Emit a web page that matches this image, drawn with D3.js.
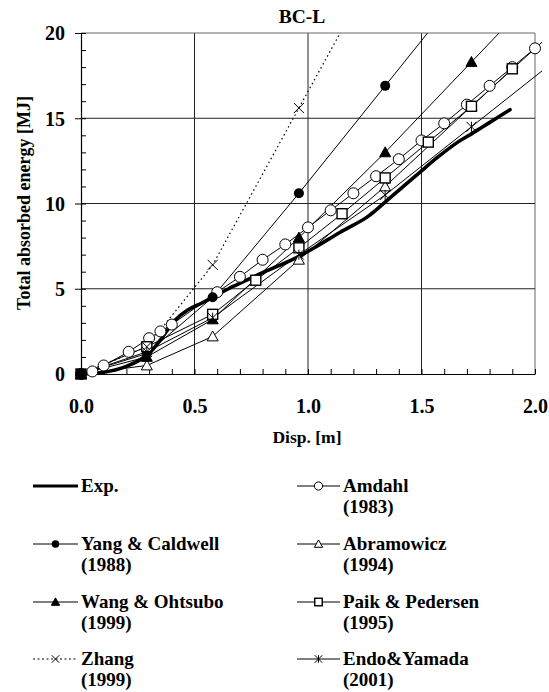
<!DOCTYPE html>
<html><head><meta charset="utf-8">
<script src="https://cdn.jsdelivr.net/npm/d3@7"></script>
<style>
body{margin:0;background:#fff}
text{font-family:"Liberation Serif","Times New Roman",serif;font-weight:bold;fill:#000}
</style>
</head><body>
<svg id="c" width="549" height="692"></svg>
<script>
// ---- data (displacement [m], energy [MJ]) ----
const expDisp   = [0,0.10,0.20,0.29,0.35,0.41,0.47,0.53,0.58,0.65,0.73,0.80,0.88,0.96,1.04,1.14,1.26,1.35,1.42,1.49,1.57,1.66,1.71,1.77,1.83,1.89];
const expEnergy = [0,0.10,0.45,1.10,2.00,3.10,3.75,4.15,4.50,5.00,5.50,5.95,6.40,6.90,7.50,8.30,9.20,10.2,11.0,11.8,12.7,13.6,14.0,14.5,15.0,15.5];

const amdahlDisp   = [0,0.05,0.10,0.21,0.30,0.35,0.40,0.60,0.70,0.80,0.90,1.00,1.10,1.20,1.30,1.40,1.50,1.60,1.70,1.80,1.90,2.00];
const amdahlEnergy = [0,0.15,0.50,1.30,2.10,2.50,2.90,4.80,5.70,6.70,7.60,8.60,9.60,10.6,11.6,12.6,13.7,14.7,15.8,16.9,18.0,19.1];

const yangDisp   = [0,0.29,0.58,0.96,1.34,1.72];
const yangEnergy = [0,1.20,4.50,10.6,16.9,23.2];

const abramDisp   = [0,0.29,0.58,0.96,1.34,1.72,2.10];
const abramEnergy = [0,0.50,2.20,6.70,11.0,15.7,20.3];

const wangDisp   = [0,0.29,0.58,0.96,1.34,1.72,2.10];
const wangEnergy = [0,1.00,3.20,8.00,13.0,18.3,23.6];

const paikDisp   = [0,0.29,0.58,0.77,0.96,1.15,1.34,1.53,1.72,1.90];
const paikEnergy = [0,1.60,3.50,5.50,7.40,9.40,11.5,13.6,15.7,17.9];

const zhangDisp   = [0,0.29,0.58,0.96,1.34];
const zhangEnergy = [0,1.60,6.40,15.6,24.8];

const endoDisp   = [0,0.29,0.58,0.96,1.34,1.72,2.10];
const endoEnergy = [0,1.30,3.30,7.00,10.5,14.5,18.5];

const xTickValues = [0,0.5,1.0,1.5,2.0];
const xTickLabels = ["0.0","0.5","1.0","1.5","2.0"];
const yTickValues = [0,5,10,15,20];
const yTickLabels = ["0","5","10","15","20"];

const seriesNames = ["Exp.","Amdahl","Yang & Caldwell","Abramowicz","Wang & Ohtsubo","Paik & Pedersen","Zhang","Endo&Yamada"];
const seriesYears = ["","(1983)","(1988)","(1994)","(1999)","(1995)","(1999)","(2001)"];

// ---- build ----
const zip = (a,b)=>a.map((v,i)=>[v,b[i]]);
const series = [
  {key:"exp",   pts:zip(expDisp,expEnergy),     marker:"none",   thick:true},
  {key:"amdahl",pts:zip(amdahlDisp,amdahlEnergy),marker:"ocircle"},
  {key:"yang",  pts:zip(yangDisp,yangEnergy),   marker:"fcircle"},
  {key:"abram", pts:zip(abramDisp,abramEnergy), marker:"otri"},
  {key:"wang",  pts:zip(wangDisp,wangEnergy),   marker:"ftri"},
  {key:"paik",  pts:zip(paikDisp,paikEnergy),   marker:"osquare"},
  {key:"zhang", pts:zip(zhangDisp,zhangEnergy), marker:"cross", dotted:true},
  {key:"endo",  pts:zip(endoDisp,endoEnergy),   marker:"star"}
];

const svg = d3.select("#c");
const L=81,R=535,T=33,B=374;
const x = d3.scaleLinear().domain([0,2]).range([L,R]);
const y = d3.scaleLinear().domain([0,20]).range([B,T]);

svg.append("defs").append("clipPath").attr("id","clip")
  .append("rect").attr("x",L-10).attr("y",T).attr("width",R-L+17).attr("height",B-T+10);

// grid
const grid = svg.append("g");
grid.selectAll(".gx").data(xTickValues.filter(v=>v>0)).enter().append("line")
  .attr("x1",d=>x(d)).attr("x2",d=>x(d)).attr("y1",T).attr("y2",B)
  .attr("stroke",d=>d===2?"#666":"#222").attr("stroke-width",1);
grid.selectAll(".gy").data(yTickValues.filter(v=>v>0)).enter().append("line")
  .attr("x1",L).attr("x2",R).attr("y1",d=>y(d)).attr("y2",d=>y(d))
  .attr("stroke",d=>d===20?"#666":"#222").attr("stroke-width",1);

// axes
const xAxisMinor = d3.axisTop(x).tickValues(d3.range(0,2.0001,0.1)).tickSize(5).tickFormat("");
const gxm = svg.append("g").attr("transform",`translate(0,${B})`).call(xAxisMinor);
gxm.select(".domain").remove();
const yAxisMinor = d3.axisRight(y).tickValues(d3.range(0,20.0001,1)).tickSize(5).tickFormat("");
const gym = svg.append("g").attr("transform",`translate(${L},0)`).call(yAxisMinor);
gym.select(".domain").remove();

const xAxis = d3.axisBottom(x).tickValues(xTickValues).tickSize(0).tickPadding(0)
  .tickFormat((d,i)=>xTickLabels[i]);
const gx = svg.append("g").attr("transform",`translate(0,${B})`).call(xAxis);
gx.select(".domain").attr("stroke","#000").attr("stroke-width",1.2);
gx.selectAll("text").attr("font-size",20).attr("dy",null).attr("y",39)
  .attr("font-family","Liberation Serif").attr("font-weight","bold");

const yAxis = d3.axisLeft(y).tickValues(yTickValues).tickSize(6).tickPadding(10)
  .tickFormat((d,i)=>yTickLabels[i]);
const gy = svg.append("g").attr("transform",`translate(${L},0)`).call(yAxis);
gy.select(".domain").attr("stroke","#000").attr("stroke-width",1.2);
gy.selectAll("text").attr("font-size",20).attr("dy","0.34em")
  .attr("font-family","Liberation Serif").attr("font-weight","bold");

// titles
svg.append("text").attr("x",302).attr("y",23).attr("text-anchor","middle").attr("font-size",19.5).text("BC-L");
svg.append("text").attr("x",307).attr("y",443).attr("text-anchor","middle").attr("font-size",17.5).text("Disp. [m]");
svg.append("text").attr("transform","translate(30,203) rotate(-90)").attr("text-anchor","middle").attr("font-size",18)
  .text("Total absorbed energy [MJ]");

// marker drawing
function drawMarker(g, type, cx, cy, s){
  s = s||1;
  if(type==="ocircle") g.append("circle").attr("cx",cx).attr("cy",cy).attr("r",5.5*s).attr("fill","#fff").attr("stroke","#000").attr("stroke-width",1);
  else if(type==="fcircle") g.append("circle").attr("cx",cx).attr("cy",cy).attr("r",5*s).attr("fill","#000");
  else if(type==="otri"||type==="ftri"){
    const h=5.5*s;
    g.append("path").attr("d",`M${cx},${cy-h}L${cx+h},${cy+h*0.8}L${cx-h},${cy+h*0.8}Z`)
      .attr("fill",type==="ftri"?"#000":"#fff").attr("stroke","#000").attr("stroke-width",1);
  }
  else if(type==="osquare"){
    const h=5*s;
    g.append("rect").attr("x",cx-h).attr("y",cy-h).attr("width",2*h).attr("height",2*h)
      .attr("fill","#fff").attr("stroke","#000").attr("stroke-width",1.4);
  }
  else if(type==="cross"){
    const h=5*s;
    g.append("path").attr("d",`M${cx-h},${cy-h}L${cx+h},${cy+h}M${cx-h},${cy+h}L${cx+h},${cy-h}`).attr("stroke","#000").attr("stroke-width",1);
  }
  else if(type==="star"){
    const h=5*s;
    g.append("path").attr("d",`M${cx-h},${cy-h}L${cx+h},${cy+h}M${cx-h},${cy+h}L${cx+h},${cy-h}M${cx},${cy-h}L${cx},${cy+h}`).attr("stroke","#000").attr("stroke-width",1);
  }
}

// lines
const plot = svg.append("g").attr("clip-path","url(#clip)");
const lineGen = d3.line().x(d=>x(d[0])).y(d=>y(d[1]));
const expLine = d3.line().x(d=>x(d[0])).y(d=>y(d[1])).curve(d3.curveCatmullRom);
series.filter(s=>!s.thick).forEach(s=>{
  plot.append("path").datum(s.pts).attr("d",lineGen).attr("fill","none").attr("stroke","#000")
    .attr("stroke-width",s.dotted?1.2:1).attr("stroke-dasharray",s.dotted?"1.5,3":null);
});
series.filter(s=>s.thick).forEach(s=>{
  plot.append("path").datum(s.pts).attr("d",expLine).attr("fill","none").attr("stroke","#000")
    .attr("stroke-width",3.6).attr("stroke-linecap","round");
});
// markers
const mk = svg.append("g");
series.forEach(s=>{
  if(s.marker==="none") return;
  s.pts.filter(p=>p[1]<=20 && p[0]<=2.0).forEach(p=>drawMarker(mk,s.marker,x(p[0]),y(p[1])));
});
// origin blob
mk.append("rect").attr("x",x(0)-5).attr("y",y(0)-5).attr("width",10).attr("height",10).attr("fill","#000");

// legend
const legendX = [33, 297];
const legendRowY = [486, 544, 602, 659];
const order = [[0,1],[2,3],[4,5],[6,7]];
const lg = svg.append("g");
order.forEach((pair,row)=>{
  pair.forEach((si,col)=>{
    const s = series[si];
    const lx = legendX[col], ly = legendRowY[row];
    const lw = col===0?45:43;
    lg.append("line").attr("x1",lx).attr("x2",lx+lw).attr("y1",ly).attr("y2",ly)
      .attr("stroke","#000").attr("stroke-width",s.thick?3:1).attr("stroke-dasharray",s.dotted?"2,2.5":null);
    if(s.marker!=="none") drawMarker(lg,s.marker,lx+lw/2,ly,0.75);
    const tx = lx+lw+3;
    lg.append("text").attr("x",tx).attr("y",ly+6).attr("font-size",19).text(seriesNames[si]);
    if(seriesYears[si]) lg.append("text").attr("x",tx).attr("y",ly+27).attr("font-size",19).text(seriesYears[si]);
  });
});
</script>
</body></html>
